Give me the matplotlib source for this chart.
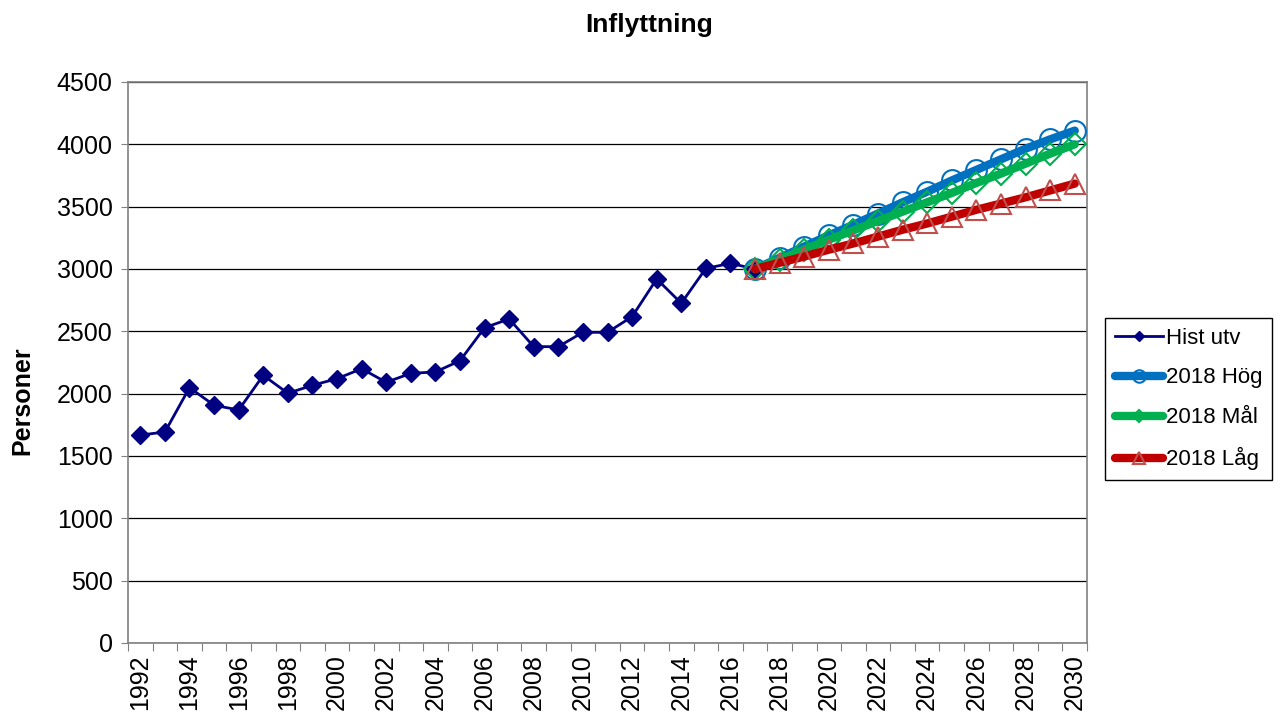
import matplotlib.pyplot as plt
import numpy as np

plt.rcParams['font.family'] = ['Liberation Sans', 'DejaVu Sans']

years = list(range(1992, 2031))

# historical development 1992-2017
hist_years = list(range(1992, 2018))
hist = [1668, 1692, 2048, 1907, 1869, 2147, 2003, 2067, 2120, 2200,
        2091, 2163, 2174, 2264, 2529, 2599, 2377, 2377, 2492, 2492,
        2618, 2920, 2725, 3005, 3045, 3000]

# forecasts 2017-2030
prog_years = list(range(2017, 2031))
hog = [3000, 3090, 3180, 3270, 3355, 3445, 3535, 3620, 3710, 3795,
       3880, 3965, 4040, 4110]
mal = [3000, 3075, 3155, 3235, 3310, 3385, 3460, 3535, 3610, 3690,
       3765, 3845, 3925, 4000]
lag = [3000, 3050, 3100, 3155, 3205, 3260, 3315, 3365, 3420, 3475,
       3525, 3575, 3630, 3685]

fig, ax = plt.subplots(figsize=(12.84, 7.18), dpi=100)
fig.subplots_adjust(left=0.0997, right=0.8466, bottom=0.1045, top=0.8858)

def pos(yrs):
    return [y - 1992 for y in yrs]

ax.plot(pos(hist_years), hist, color='#000080', lw=2, marker='D', ms=9,
        mfc='#000080', mec='#000080', label='Hist utv', zorder=3)
ax.plot(pos(prog_years), hog, color='#0070C0', lw=6, marker='o', ms=15,
        mfc='none', mec='#0070C0', mew=1.5, label='2018 Hög', zorder=4,
        solid_capstyle='round')
ax.plot(pos(prog_years), mal, color='#00B050', lw=6, marker='D', ms=11,
        mfc='none', mec='#00B050', mew=1.5, label='2018 Mål', zorder=5,
        solid_capstyle='round')
ax.plot(pos(prog_years), lag, color='#C00000', lw=6, marker='^', ms=15,
        mfc='none', mec='#C0504D', mew=1.5, label='2018 Låg', zorder=6,
        solid_capstyle='round')

ax.set_xlim(-0.5, len(years) - 0.5)
ax.set_ylim(0, 4500)
ax.set_yticks(np.arange(0, 4501, 500))
ax.yaxis.grid(True, color='black', lw=0.9)
ax.set_axisbelow(True)

ax.set_xticks([i - 0.5 for i in range(len(years) + 1)])
ax.set_xticklabels([])
ax.set_xticks(range(0, len(years), 2), minor=True)
ax.set_xticklabels([str(y) for y in years[::2]], minor=True, rotation=90,
                   fontsize=18)
ax.tick_params(axis='x', which='major', length=6, color='#808080')
ax.tick_params(axis='x', which='minor', length=0, pad=8)
ax.tick_params(axis='y', labelsize=18, length=5, color='#808080', pad=6)

for s in ax.spines.values():
    s.set_color('#808080')
    s.set_linewidth(1.2)

fig.text(0.5055, 1 - 25 / 718, 'Inflyttning', fontsize=19, fontweight='bold',
         ha='center', va='center')
fig.text(22 / 1284, 1 - 401 / 718, 'Personer', fontsize=18, fontweight='bold',
         rotation=90, ha='center', va='center')

leg = ax.legend(loc='center left', bbox_to_anchor=(1.019, 0.435), fontsize=16,
                frameon=True, fancybox=False, edgecolor='black', framealpha=1,
                handlelength=2.2, handletextpad=0.1, borderpad=0.42,
                labelspacing=0.85, markerscale=0.6, borderaxespad=0)
leg.get_frame().set_linewidth(1.0)

fig.savefig('out.png', dpi=100)
